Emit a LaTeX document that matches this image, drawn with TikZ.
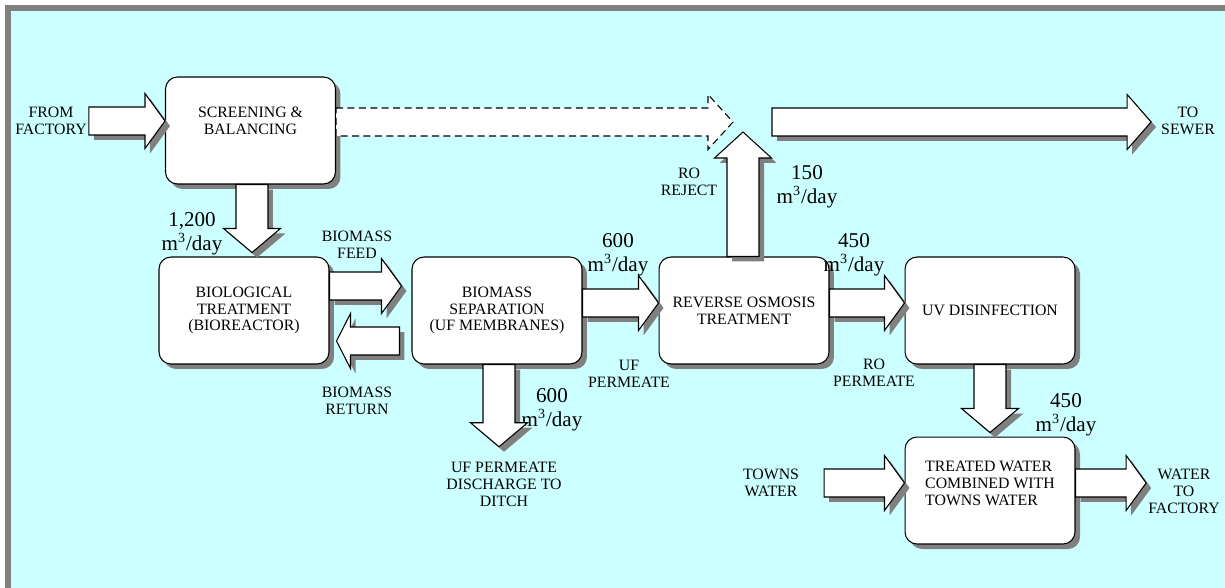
\documentclass[tikz,border=0pt]{standalone}
\usepackage{fontspec}
\setmainfont{Liberation Serif}
\usetikzlibrary{calc,positioning,shadows}
\definecolor{paleaqua}{RGB}{204,255,255}
\definecolor{framegray}{RGB}{128,128,128}
\definecolor{shadowgray}{RGB}{128,128,128}
\tikzset{
  shaftw/.store in=\shafthalf, headw/.store in=\headhalf, headlen/.store in=\headlen,
  tipgap/.store in=\tipgap, tailgap/.store in=\tailgap,
  shaftw=0.28cm, headw=0.55cm, headlen=0.4cm, tipgap=0cm, tailgap=0cm,
  castshadow/.style={drop shadow={shadow xshift=0.1cm, shadow yshift=-0.1cm, opacity=1, fill=shadowgray}},
  procbox/.style={draw=black, fill=white, rectangle, rounded corners=0.24cm, minimum width=3.4cm, minimum height=2.14cm, align=center, line width=0.6pt, castshadow, font=\fontsize{9}{9.6}\selectfont},
  lbl/.style={align=center, inner sep=1pt, font=\fontsize{9}{9.6}\selectfont},
  flow/.style={align=center, inner sep=1pt, font=\fontsize{12}{13.5}\selectfont},
  vert/.style={shaftw=0.32cm, headw=0.57cm, headlen=0.48cm},
  blockarrow/.style={draw=black, fill=white, line width=0.6pt, line join=miter,
    to path={let \p1=($(\tikztostart)!\tailgap!(\tikztotarget)$), \p2=($(\tikztotarget)!\tipgap!(\tikztostart)$), \p3=($(\p2)!\headlen!(\p1)$) in
      ($(\p1)!\shafthalf!90:(\p2)$) -- ($(\p3)!\shafthalf!90:(\p2)$) -- ($(\p3)!\headhalf!90:(\p2)$) -- (\p2)
      -- ($(\p3)!\headhalf!-90:(\p2)$) -- ($(\p3)!\shafthalf!-90:(\p2)$) -- ($(\p1)!\shafthalf!-90:(\p2)$) -- cycle}}
}
\newcommand{\mday}{m\textsuperscript{3}/day}

\begin{document}
\begin{tikzpicture}[x=0.02cm, y=-0.02cm]
  % frame and background
  \useasboundingbox (0,0) rectangle (1225,588);
  \fill[white] (0,0) rectangle (1225,588);
  \fill[framegray] (5,5) rectangle (1225,588);
  \fill[paleaqua] (11,11) rectangle (1225,588);

  % process boxes
  \node[procbox, text depth=0.4cm] (screen) at (250.5,130.5) {SCREENING \&\\BALANCING};
  \node[procbox] (bio) at (244,310.5) {BIOLOGICAL\\TREATMENT\\(BIOREACTOR)};
  \node[procbox, right=1.64cm of bio] (sep) {BIOMASS\\SEPARATION\\(UF MEMBRANES)};
  \node[procbox, right=1.52cm of sep] (ro) {REVERSE OSMOSIS\\TREATMENT};
  \node[procbox, right=1.5cm of ro] (uv) {UV DISINFECTION};
  \node[procbox, below=1.44cm of uv, align=left, text depth=0.28cm] (treated) {TREATED WATER\\COMBINED WITH\\TOWNS WATER};

  % labels
  \node[lbl] (fromfact) at (51,121) {FROM\\FACTORY};
  \node[lbl] (sewer) at (1188,121) {TO\\SEWER};
  \node[lbl] (feedlbl) at (357,245) {BIOMASS\\FEED};
  \node[lbl] (returnlbl) at (357,401) {BIOMASS\\RETURN};
  \node[lbl] (rejectlbl) at (689,182) {RO\\REJECT};
  \node[lbl] (ufpermlbl) at (629,374) {UF\\PERMEATE};
  \node[lbl] (ropermlbl) at (874,373) {RO\\PERMEATE};
  \node[lbl] (ditch) at (504,484) {UF PERMEATE\\DISCHARGE TO\\DITCH};
  \node[lbl] (towns) at (771,483) {TOWNS\\WATER};
  \node[lbl] (wfact) at (1184,491) {WATER\\TO\\FACTORY};

  \node[flow] (f1200) at (192,234) {1,200\\\mday};
  \node[flow] (f600uf) at (618,255) {600\\\mday};
  \node[flow] (f150) at (807,187) {150\\\mday};
  \node[flow] (f450ro) at (854,255) {450\\\mday};
  \node[flow] (f450uv) at (1066,415) {450\\\mday};
  \node[flow] (f600ditch) at (552,410) {600\\\mday};

  \coordinate (merge) at (733,122);
  \coordinate (rejecttip) at (743,132);
  \coordinate (rejoin) at (772,122);

  % flows
  \draw[blockarrow, castshadow] (fromfact.east) to (screen.west |- fromfact.east);
  \draw[blockarrow, dash pattern=on 4pt off 2.5pt, headlen=0.5cm] (screen.east |- merge) to (merge);
  \draw[blockarrow, castshadow, vert, headlen=0.52cm] (ro.north -| rejecttip) to (rejecttip);
  \draw[blockarrow, castshadow, headlen=0.48cm, tipgap=0.16cm] (rejoin) to (sewer.west |- rejoin);
  \draw[blockarrow, castshadow, vert, tipgap=0.08cm] (screen.south -| 252,0) to (bio.north -| 252,0);
  \draw[blockarrow, castshadow, tipgap=0.2cm] (bio.east |- 0,286) to (sep.west |- 0,286);
  \draw[blockarrow, castshadow, tailgap=0.24cm, tipgap=0.14cm, headlen=0.28cm] (sep.west |- 0,341) to (bio.east |- 0,341);
  \draw[blockarrow, castshadow] (sep.east |- 0,303) to (ro.west |- 0,303);
  \draw[blockarrow, castshadow] (ro.east |- 0,303) to (uv.west |- 0,303);
  \draw[blockarrow, castshadow, vert, tipgap=0.26cm] (sep.south -| 499,0) to (ditch.north -| 499,0);
  \draw[blockarrow, castshadow, vert, tipgap=0.08cm] (uv.south -| 990,0) to (treated.north -| 990,0);
  \draw[blockarrow, castshadow, tailgap=0.46cm] (towns.east) to (treated.west |- towns.east);
  \draw[blockarrow, castshadow] (treated.east |- 0,483) to (wfact.west |- 0,483);
\end{tikzpicture}
\end{document}
